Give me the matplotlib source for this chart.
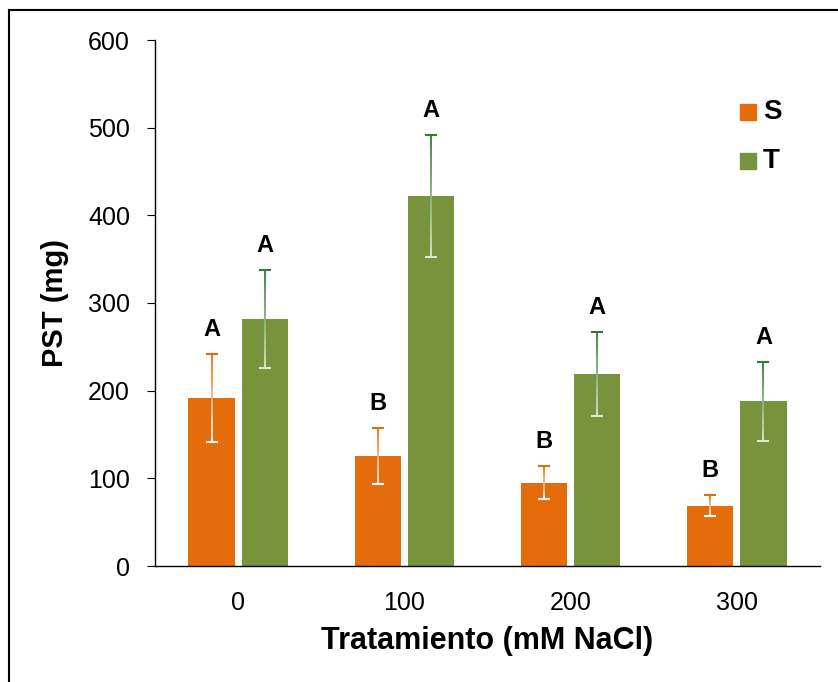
import numpy as np
import matplotlib
matplotlib.use("Agg")
import matplotlib.pyplot as plt
from matplotlib.collections import LineCollection
from matplotlib.colors import to_rgb

plt.rcParams['font.family'] = ['Liberation Sans', 'DejaVu Sans']

# datos
categorias = ['0', '100', '200', '300']
s_media = [192, 125, 95, 69]
s_err = [50, 32, 19, 12]
t_media = [282, 422, 219, 188]
t_err = [56, 70, 48, 45]
s_letras = ['A', 'B', 'B', 'B']
t_letras = ['A', 'A', 'A', 'A']

COLOR_S = '#E46C0A'
COLOR_T = '#77933C'
OSCURO_S = '#E46C0A'
OSCURO_T = '#2E7D32'


def barra_error(ax, x, y, e, color_top, color_bot, cap=0.06, n=40):
    """error bar con degradado de color (arriba oscuro, abajo claro)"""
    ys = np.linspace(y + e, y - e, n + 1)
    c0 = np.array(to_rgb(color_top))
    c1 = np.array(to_rgb(color_bot))
    segs = [[(x, ys[i]), (x, ys[i + 1])] for i in range(n)]
    cols = [c0 + (c1 - c0) * (i / (n - 1)) for i in range(n)]
    ax.add_collection(LineCollection(segs, colors=cols, linewidths=1.3, zorder=4))
    ax.plot([x - cap / 2, x + cap / 2], [y + e] * 2, color=c0, lw=1.5, zorder=4)
    ax.plot([x - cap / 2, x + cap / 2], [y - e] * 2, color=c1, lw=1.5, zorder=4)


fig = plt.figure(figsize=(8.38, 6.82), dpi=100)
ax = fig.add_axes([155 / 838, 1 - 566 / 682, 665 / 838, 526 / 682])

x = np.arange(len(categorias)) + 0.5
w = 0.277
d = 0.16

ax.bar(x - d, s_media, width=w, color=COLOR_S, zorder=2)
ax.bar(x + d, t_media, width=w, color=COLOR_T, zorder=2)

for i in range(len(categorias)):
    barra_error(ax, x[i] - d, s_media[i], s_err[i], OSCURO_S, '#ffffff')
    barra_error(ax, x[i] + d, t_media[i], t_err[i], OSCURO_T, '#dfe8d0')
    ax.text(x[i] - d, s_media[i] + s_err[i] + 15, s_letras[i], ha='center', va='bottom',
            fontsize=17, fontweight='bold')
    ax.text(x[i] + d, t_media[i] + t_err[i] + 15, t_letras[i], ha='center', va='bottom',
            fontsize=17, fontweight='bold')

ax.set_xlim(0, 4)
ax.set_ylim(0, 600)
ax.set_yticks(range(0, 601, 100))
ax.set_xticks(x)
ax.set_xticklabels(categorias)
ax.tick_params(axis='y', labelsize=18, length=6, pad=12, direction='out')
ax.tick_params(axis='x', labelsize=18, length=0, pad=18)
for lado in ['top', 'right']:
    ax.spines[lado].set_visible(False)
ax.spines['left'].set_linewidth(1.0)
ax.spines['bottom'].set_linewidth(1.0)

ax.set_ylabel('PST (mg)', fontsize=21, fontweight='bold', labelpad=14)
ax.set_xlabel('Tratamiento (mM NaCl)', fontsize=22, fontweight='bold', labelpad=8)

# leyenda manual
for k, (nom, col) in enumerate([('S', COLOR_S), ('T', COLOR_T)]):
    yy = 1 - (112 + 49 * k) / 682
    fig.patches.append(plt.Rectangle((740 / 838, yy - 8 / 682), 16 / 838, 16 / 682,
                                     transform=fig.transFigure, color=col, figure=fig))
    fig.text(763 / 838, yy, nom, fontsize=20, fontweight='bold', va='center', ha='left')

# marco de la figura (solo izquierda y arriba visibles)
fig.add_artist(plt.Line2D([9 / 838, 9 / 838], [0, 1 - 10 / 682], color='black', lw=1.5,
                          transform=fig.transFigure))
fig.add_artist(plt.Line2D([9 / 838, 1], [1 - 10 / 682] * 2, color='black', lw=1.5,
                          transform=fig.transFigure))

fig.savefig('out.png', dpi=100)
